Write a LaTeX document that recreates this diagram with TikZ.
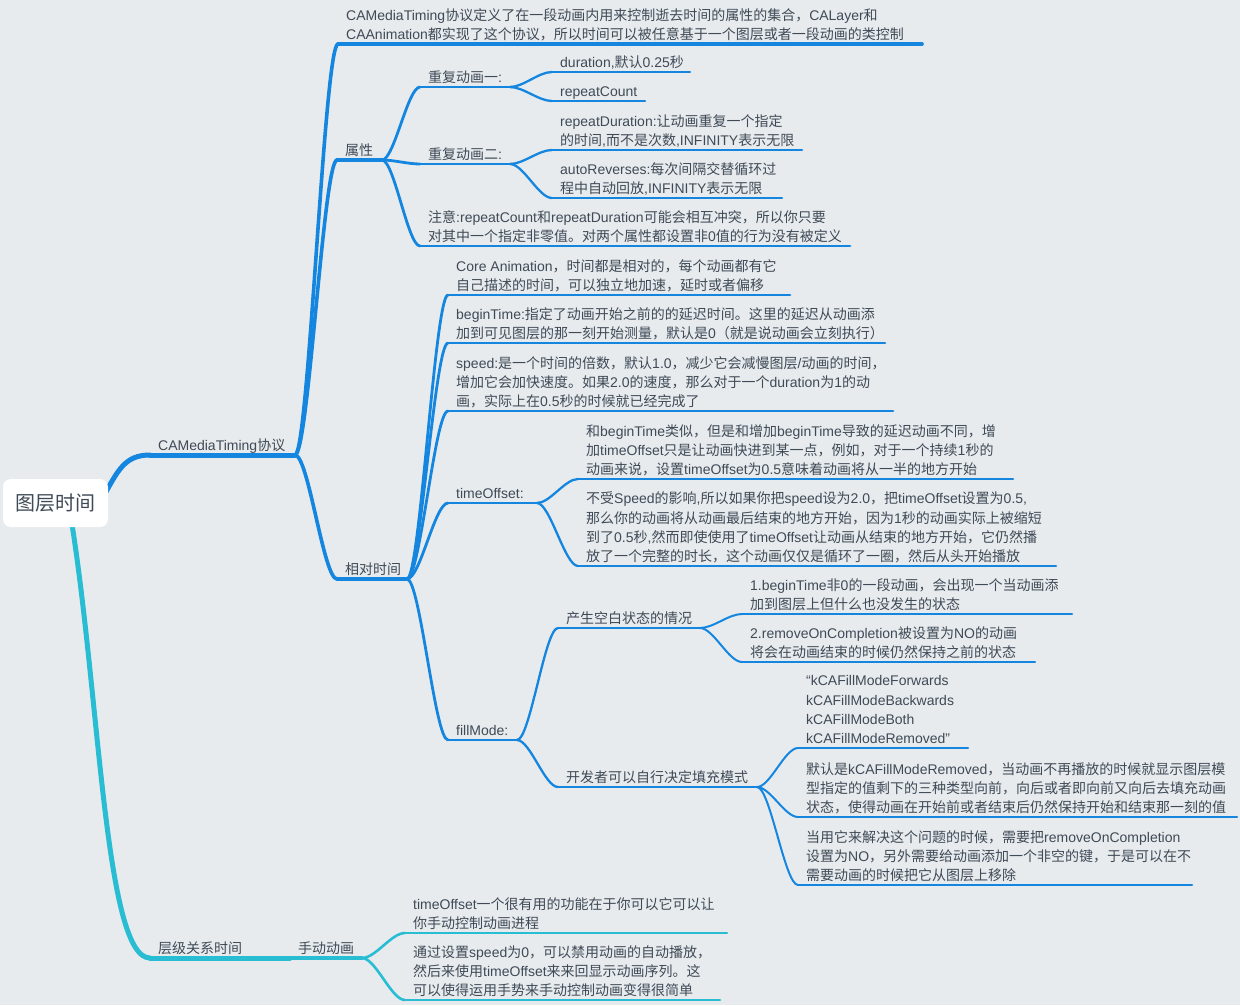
\documentclass[tikz,border=0pt]{standalone}
\usepackage{fontspec}
\setmainfont{Liberation Sans}
\newfontfamily\cjkfont{Noto Sans CJK SC}
\newfontfamily\latfont{Liberation Sans}
\usetikzlibrary{calc}
\XeTeXinterchartokenstate=1
\newXeTeXintercharclass\cjkcls
\newcount\cjkcnt
\cjkcnt="3000 \loop \XeTeXcharclass\cjkcnt=\cjkcls \ifnum\cjkcnt<"303F \advance\cjkcnt by 1 \repeat
\cjkcnt="4E00 \loop \XeTeXcharclass\cjkcnt=\cjkcls \ifnum\cjkcnt<"9FFF \advance\cjkcnt by 1 \repeat
\cjkcnt="FF00 \loop \XeTeXcharclass\cjkcnt=\cjkcls \ifnum\cjkcnt<"FFEF \advance\cjkcnt by 1 \repeat
\XeTeXcharclass"201C=0 \XeTeXcharclass"201D=0 \XeTeXcharclass"2018=0 \XeTeXcharclass"2019=0
\XeTeXinterchartoks 0 \cjkcls = {\cjkfont}
\XeTeXinterchartoks 4095 \cjkcls = {\cjkfont}
\XeTeXinterchartoks \cjkcls 0 = {\latfont}
\XeTeXinterchartoks \cjkcls 4095 = {\latfont}
\definecolor{bgc}{HTML}{E8EBEE}
\definecolor{mblue}{HTML}{1486E0}
\definecolor{mcyan}{HTML}{29BDD3}
\definecolor{tcol}{HTML}{3E4A56}
\pgfdeclarelayer{back}
\pgfdeclarelayer{front}
\pgfsetlayers{back,main,front}
\tikzset{
  txt/.style={inner sep=0pt, align=left, text=tcol, font=\fontsize{14}{19.4}\selectfont, execute at end node=\strut},
  rootbox/.style={fill=white, rounded corners=8pt, minimum width=105pt, minimum height=48pt, inner sep=0pt, text=tcol, font=\fontsize{20}{24}\selectfont},
  blA/.style={draw=mblue, line width=5pt, line cap=round},
  blB/.style={draw=mblue, line width=3.6pt, line cap=round},
  blC/.style={draw=mblue, line width=2.8pt, line cap=round},
  blD/.style={draw=mblue, line width=2.3pt, line cap=round},
  blE/.style={draw=mblue, line width=2pt, line cap=round},
  cyA/.style={draw=mcyan, line width=5pt, line cap=round},
  cyB/.style={draw=mcyan, line width=3.4pt, line cap=round},
  cyC/.style={draw=mcyan, line width=2.6pt, line cap=round},
}
\newcommand\topic[6]{%
  \coordinate (#1s) at (#2,#4);
  \coordinate (#1e) at (#3,#4);
  \draw[#5] (#1s) -- (#1e);
  \node[txt, anchor=south west] (#1) at ({#2+8},{#4+2}) {#6};
}
\newcommand\conn[3]{%
  \draw[#1] let \p1=(#2), \p2=(#3) in (#2) .. controls ({\x1+0.32*((\x2)-(\x1))},{\y1}) and ({\x2-0.32*((\x2)-(\x1))},{\y2}) .. (#3);
}
\begin{document}
\begin{tikzpicture}[x=1pt,y=-1pt]
\begin{pgfonlayer}{back}
\fill[bgc] (0,0) rectangle (1240,1005);
\end{pgfonlayer}
\useasboundingbox (0,0) rectangle (1240,1005);

\begin{pgfonlayer}{front}
\node[rootbox] (root) at (55.5,503) {图层时间};
\end{pgfonlayer}

% level 1
\topic{ca}{150}{295}{455}{blA}{CAMediaTiming协议}
\topic{hier}{150}{290}{958}{cyA}{层级关系时间}
\draw[blA] ($(root.east)+(-5,-6)$) .. controls (118,470) and (125,455) .. (cas);
\draw[cyA] ($(root.south)+(16,-6)$) .. controls (100,700) and (105,958) .. (hiers);

% level 2
\topic{proto}{338}{922}{44}{blB}{CAMediaTiming协议定义了在一段动画内用来控制逝去时间的属性的集合，CALayer和\\CAAnimation都实现了这个协议，所以时间可以被任意基于一个图层或者一段动画的类控制}
\topic{attr}{337}{382}{160}{blB}{属性}
\topic{rel}{337}{407}{579}{blB}{相对时间}
\conn{blB}{cae}{protos}
\conn{blB}{cae}{attrs}
\conn{blB}{cae}{rels}

% 属性
\topic{repa}{420}{510}{87}{blC}{重复动画一:}
\topic{repb}{420}{510}{164}{blC}{重复动画二:}
\topic{note}{420}{850}{246}{blC}{注意:repeatCount和repeatDuration可能会相互冲突，所以你只要\\对其中一个指定非零值。对两个属性都设置非0值的行为没有被定义}
\conn{blC}{attre}{repas}
\conn{blC}{attre}{repbs}
\conn{blC}{attre}{notes}

\topic{dur}{552}{690}{72}{blD}{duration,默认0.25秒}
\topic{rc}{552}{645}{101}{blD}{repeatCount}
\conn{blD}{repae}{durs}
\conn{blD}{repae}{rcs}
\topic{rd}{552}{802}{150}{blD}{repeatDuration:让动画重复一个指定\\的时间,而不是次数,INFINITY表示无限}
\topic{ar}{552}{782}{198}{blD}{autoReverses:每次间隔交替循环过\\程中自动回放,INFINITY表示无限}
\conn{blD}{repbe}{rds}
\conn{blD}{repbe}{ars}

% 相对时间
\topic{core}{448}{790}{295}{blC}{Core Animation，时间都是相对的，每个动画都有它\\自己描述的时间，可以独立地加速，延时或者偏移}
\topic{bt}{448}{885}{343}{blC}{beginTime:指定了动画开始之前的的延迟时间。这里的延迟从动画添\\加到可见图层的那一刻开始测量，默认是0（就是说动画会立刻执行）}
\topic{spd}{448}{893}{411}{blC}{speed:是一个时间的倍数，默认1.0，减少它会减慢图层/动画的时间，\\增加它会加快速度。如果2.0的速度，那么对于一个duration为1的动\\画，实际上在0.5秒的时候就已经完成了}
\topic{toff}{448}{537}{503}{blC}{timeOffset:}
\topic{fm}{448}{517}{740}{blC}{fillMode:}
\conn{blC}{rele}{cores}
\conn{blC}{rele}{bts}
\conn{blC}{rele}{spds}
\conn{blC}{rele}{toffs}
\conn{blC}{rele}{fms}

\topic{toa}{578}{1013}{479}{blD}{和beginTime类似，但是和增加beginTime导致的延迟动画不同，增\\加timeOffset只是让动画快进到某一点，例如，对于一个持续1秒的\\动画来说，设置timeOffset为0.5意味着动画将从一半的地方开始}
\topic{tob}{578}{1056}{566}{blD}{不受Speed的影响,所以如果你把speed设为2.0，把timeOffset设置为0.5,\\那么你的动画将从动画最后结束的地方开始，因为1秒的动画实际上被缩短\\到了0.5秒,然而即使使用了timeOffset让动画从结束的地方开始，它仍然播\\放了一个完整的时长，这个动画仅仅是循环了一圈，然后从头开始播放}
\conn{blD}{toffe}{toas}
\conn{blD}{toffe}{tobs}

\topic{blank}{558}{700}{628}{blD}{产生空白状态的情况}
\topic{dev}{558}{757}{787}{blD}{开发者可以自行决定填充模式}
\conn{blD}{fme}{blanks}
\conn{blD}{fme}{devs}

\topic{bla}{742}{1072}{614}{blE}{1.beginTime非0的一段动画，会出现一个当动画添\\加到图层上但什么也没发生的状态}
\topic{blb}{742}{1035}{662}{blE}{2.removeOnCompletion被设置为NO的动画\\将会在动画结束的时候仍然保持之前的状态}
\conn{blE}{blanke}{blas}
\conn{blE}{blanke}{blbs}

\topic{km}{798}{968}{748}{blE}{“kCAFillModeForwards\\kCAFillModeBackwards\\kCAFillModeBoth\\kCAFillModeRemoved”}
\topic{dflt}{798}{1237}{817}{blE}{默认是kCAFillModeRemoved，当动画不再播放的时候就显示图层模\\型指定的值剩下的三种类型向前，向后或者即向前又向后去填充动画\\状态，使得动画在开始前或者结束后仍然保持开始和结束那一刻的值}
\topic{use}{798}{1192}{885}{blE}{当用它来解决这个问题的时候，需要把removeOnCompletion\\设置为NO，另外需要给动画添加一个非空的键，于是可以在不\\需要动画的时候把它从图层上移除}
\conn{blE}{deve}{kms}
\conn{blE}{deve}{dflts}
\conn{blE}{deve}{uses}

% 层级关系时间
\topic{man}{290}{362}{958}{cyB}{手动动画}
\conn{cyB}{hiere}{mans}
\topic{ma}{405}{727}{933}{cyC}{timeOffset一个很有用的功能在于你可以它可以让\\你手动控制动画进程}
\topic{mb}{405}{720}{1000}{cyC}{通过设置speed为0，可以禁用动画的自动播放，\\然后来使用timeOffset来来回显示动画序列。这\\可以使得运用手势来手动控制动画变得很简单}
\conn{cyC}{mane}{mas}
\conn{cyC}{mane}{mbs}
\end{tikzpicture}
\end{document}
